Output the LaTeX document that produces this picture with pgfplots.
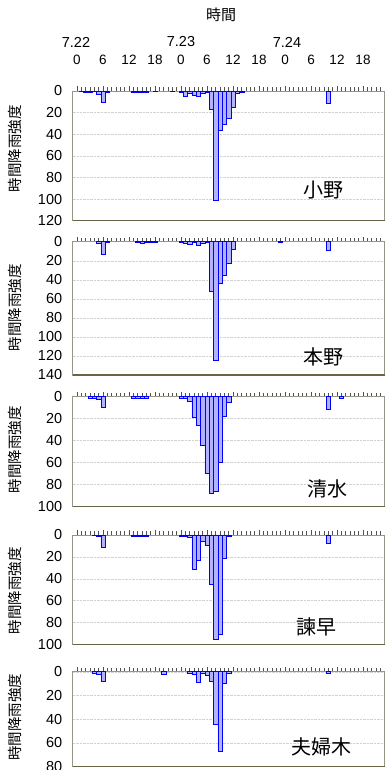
\documentclass[border=0pt]{standalone}
\usepackage{pgfplots}
\pgfplotsset{compat=1.18}
\usepackage{fontspec}
\setmainfont{Liberation Sans}
\newfontfamily\jp{Noto Sans CJK JP}
\definecolor{barfill}{RGB}{142,138,218}
\definecolor{baredge}{RGB}{55,55,85}
\definecolor{framec}{RGB}{150,150,135}
\definecolor{bottomc}{RGB}{105,100,70}
\pgfplotsset{
  panel/.style={
    scale only axis, width=311.8pt,
    xmin=-1, xmax=71, ymin=0, y dir=reverse,
    xtick={0,6,12,18,24,30,36,42,48,54,60,66}, minor xtick={0,...,70},
    xtick pos=right, xticklabels={},
    tick align=inside,
    major tick length=4.5pt, minor tick length=3.5pt,
    x tick style={draw=framec!55!black, line width=0.6pt},
    ytick style={draw=none},
    axis line style={draw=framec, line width=0.6pt},
    ymajorgrids, grid style={densely dotted, gray!35},
    ticklabel style={font=\fontsize{14.5}{15}\selectfont},
    /pgf/number format/assume math mode=true,
    yticklabel style={xshift=-7pt},
    ybar, bar width=1, bar shift=0pt,
    every axis plot/.append style={fill=barfill, draw=baredge, line width=0.5pt},
  }
}
\begin{document}
\begin{tikzpicture}[x=1pt,y=1pt]
\useasboundingbox (0,0) rectangle (385,770);
% ---------- panel 1: 小野
\begin{axis}[panel, at={(72.7pt,614.15pt)}, anchor=west, height=129.7pt,
  ymax=120, ytick={0,20,...,120}]
\addplot coordinates {(1,0.5)(2,1)(3,1)(4,0.5)(5,3)(6,10)(7,1)(13,1)(14,1.5)(15,1.5)(16,1)(18,0.5)(22,0.5)(24,1)(25,5)(26,2)(27,4)(28,5)(29,2)(30,1)(31,17)(32,101)(33,36)(34,31)(35,25)(36,15)(37,2)(38,1)(58,11)};
\end{axis}
% ---------- panel 2: 本野
\begin{axis}[panel, at={(72.7pt,461.65pt)}, anchor=west, height=133.3pt,
  ymax=140, ytick={0,20,...,140}]
\addplot coordinates {(5,2)(6,13)(7,1)(14,1)(15,1.5)(16,1)(17,1)(18,1)(24,0.5)(25,2)(26,2.5)(27,1)(28,4)(29,2)(30,1)(31,52)(32,124)(33,44)(34,35)(35,23)(36,8)(47,1)(58,9)};
\end{axis}
% ---------- panel 3: 清水
\begin{axis}[panel, at={(72.7pt,318.3pt)}, anchor=west, height=110pt,
  ymax=100, ytick={0,20,...,100}]
\addplot coordinates {(3,1)(4,1)(5,2)(6,10)(13,1)(14,1)(15,1)(16,1)(24,1)(25,1)(26,4)(27,19)(28,26)(29,44)(30,70)(31,88)(32,86)(33,60)(34,18)(35,5)(58,11)(61,1)};
\end{axis}
% ---------- panel 4: 諫早
\begin{axis}[panel, at={(72.7pt,180.35pt)}, anchor=west, height=109.3pt,
  ymax=100, ytick={0,20,...,100}]
\addplot coordinates {(4,0.5)(5,1)(6,11)(13,1)(14,1.5)(15,1)(16,1.5)(24,1)(25,1)(26,2)(27,31)(28,23)(29,6)(30,9)(31,45)(32,95)(33,91)(34,21)(35,1)(58,8)};
\end{axis}
% ---------- panel 5: 夫婦木
\begin{axis}[panel, at={(72.7pt,50.8pt)}, anchor=west, height=95pt,
  ymax=80, ytick={0,20,...,80}]
\addplot coordinates {(4,1)(5,2)(6,8)(20,2)(26,1)(27,2)(28,9)(29,1)(30,3)(31,8)(32,44)(33,67)(34,10)(35,1)(58,1)};
\end{axis}
% bottom frame lines
\draw[bottomc, line width=1.3pt] (72.7,549.3) -- (385,549.3);
\draw[bottomc, line width=1.3pt] (72.7,395) -- (385,395);
\draw[bottomc, line width=1.3pt] (72.7,263.3) -- (385,263.3);
\draw[bottomc, line width=1.3pt] (72.7,125.7) -- (385,125.7);
\draw[bottomc, line width=1.3pt] (72.7,3.3) -- (385,3.3);
% header: upper time axis labels
\node[font=\jp\fontsize{15}{15}\selectfont] at (221,755) {時間};
\node[font=\fontsize{14.5}{15}\selectfont] at (76,728) {7.22};
\node[font=\fontsize{14.5}{15}\selectfont] at (181,728) {7.23};
\node[font=\fontsize{14.5}{15}\selectfont] at (287,728) {7.24};
\foreach \hx/\lab in {77/0,103/6,129/12,155/18,181/0,207/6,233/12,259/18,285/0,311/6,337/12,363/18}{
  \node[font=\fontsize{13.5}{14}\selectfont] at (\hx,710) {\lab};
}
% y labels
\foreach \yy in {621,462,320,179,53}{
  \node[font=\jp\fontsize{14.5}{15}\selectfont, rotate=90] at (15,\yy) {時間降雨強度};
}
% station names
\node[font=\jp\fontsize{20}{20}\selectfont] at (323,580) {小野};
\node[font=\jp\fontsize{20}{20}\selectfont] at (323.5,413) {本野};
\node[font=\jp\fontsize{20}{20}\selectfont] at (327,281) {清水};
\node[font=\jp\fontsize{20}{20}\selectfont] at (316,143.5) {諫早};
\node[font=\jp\fontsize{20}{20}\selectfont] at (321,23) {夫婦木};
\end{tikzpicture}
\end{document}
